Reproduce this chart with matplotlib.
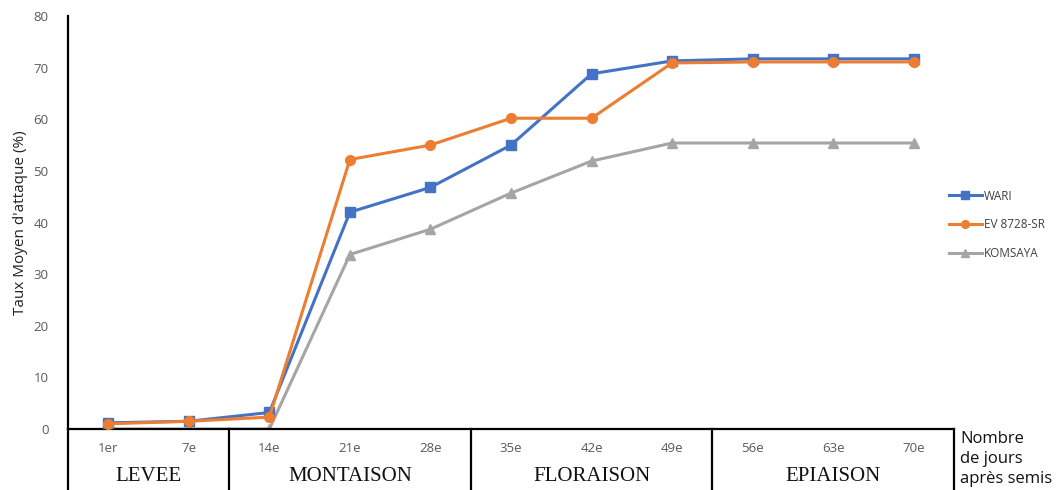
import matplotlib
matplotlib.use('Agg')
import matplotlib.pyplot as plt

# data
jours = ['1er', '7e', '14e', '21e', '28e', '35e', '42e', '49e', '56e', '63e', '70e']
wari = [1.2, 1.5, 3.2, 42.0, 46.8, 55.0, 68.8, 71.3, 71.7, 71.7, 71.7]
ev8728 = [1.0, 1.5, 2.3, 52.2, 55.0, 60.2, 60.2, 70.9, 71.1, 71.1, 71.1]
komsaya = [0.0, 0.0, 0.0, 33.8, 38.7, 45.7, 51.9, 55.4, 55.4, 55.4, 55.4]
stades = ['LEVEE', 'MONTAISON', 'FLORAISON', 'EPIAISON']
stade_bornes = [(-0.5, 1.5), (1.5, 4.5), (4.5, 7.5), (7.5, 10.5)]

plt.rcParams['font.family'] = ['Open Sans', 'DejaVu Sans']

W, H = 1059, 490
fig = plt.figure(figsize=(W / 100, H / 100), dpi=100)
ax = fig.add_axes([68 / W, 61 / H, (954 - 68) / W, (429 - 16) / H])

x = list(range(len(jours)))
ax.plot(x, wari, color='#4472C4', marker='s', markersize=7, linewidth=2.2, label='WARI', zorder=3)
ax.plot(x, ev8728, color='#ED7D31', marker='o', markersize=7, linewidth=2.2, label='EV 8728-SR', zorder=4)
ax.plot(x, komsaya, color='#A5A5A5', marker='^', markersize=7, linewidth=2.2, label='KOMSAYA', zorder=2)

ax.set_xlim(-0.5, 10.5)
ax.set_ylim(0, 80)
ax.set_yticks(range(0, 81, 10))
ax.set_xticks(x)
ax.set_xticklabels(jours)
ax.tick_params(axis='both', length=0, labelsize=9.5, labelcolor='#595959')
ax.tick_params(axis='x', pad=9)
ax.tick_params(axis='y', pad=14)

for s in ['top', 'right']:
    ax.spines[s].set_visible(False)
ax.spines['left'].set_linewidth(1.6)
ax.spines['bottom'].set_linewidth(1.6)

ax.set_ylabel("Taux Moyen d'attaque (%)", fontsize=11, color='#222222', labelpad=4)

# table of stages below the axis
trans = ax.get_xaxis_transform()
ybot = -61 / 413
for xb in [-0.5, 1.5, 4.5, 7.5, 10.5]:
    ax.plot([xb, xb], [0, ybot], transform=trans, color='black', linewidth=1.6, clip_on=False)
for nom, (a, b) in zip(stades, stade_bornes):
    ax.text((a + b) / 2, -47 / 413, nom, transform=trans, ha='center', va='center',
            fontsize=15, family='Liberation Serif', color='#111111')

fig.text(960 / W, 1 - 459 / H, 'Nombre\nde jours\naprès semis', ha='left', va='center',
         fontsize=12, color='#111111', linespacing=1.3)

ax.legend(loc='center left', bbox_to_anchor=(938 / W, 1 - 225 / H), bbox_transform=fig.transFigure,
          frameon=False, fontsize=8.5, handlelength=2.8, labelspacing=1.35, handletextpad=0.2,
          markerscale=0.8, labelcolor='#404040')

fig.savefig('out.png', dpi=100)
